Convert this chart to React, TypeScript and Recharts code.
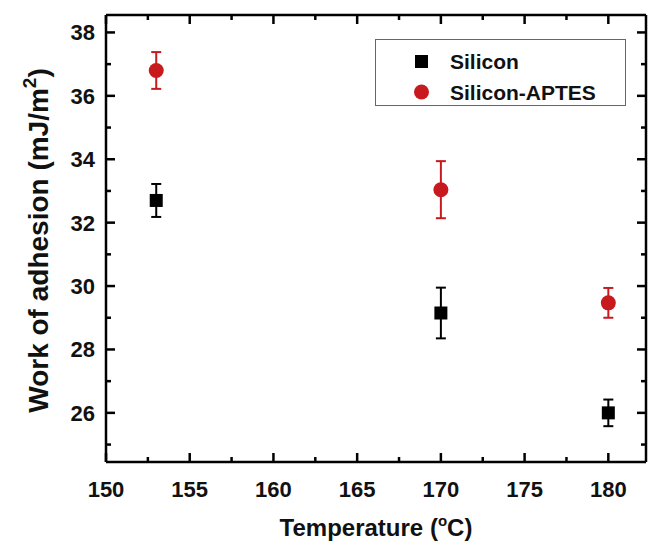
import React from "react";
import { ScatterChart, Scatter, XAxis, YAxis, ErrorBar } from "recharts";

// Temperature (°C) of each measurement
const temperatures = [153, 170, 180];

// Work of adhesion (mJ/m2) and error half-widths
const siliconValues = [32.7, 29.15, 26.0];
const siliconErrors = [0.52, 0.8, 0.42];
const aptesValues = [36.8, 33.04, 29.47];
const aptesErrors = [0.58, 0.9, 0.47];

// Axis ticks
const xMajorTicks = [150, 155, 160, 165, 170, 175, 180];
const xMinorTicks = [152.5, 157.5, 162.5, 167.5, 172.5, 177.5];
const yMajorTicks = [26, 28, 30, 32, 34, 36, 38];
const yMinorTicks = [25, 27, 29, 31, 33, 35, 37];

const xMin = 150;
const xMax = 182.25;
const yMin = 24.45;
const yMax = 38.55;

const siliconData = temperatures.map((t, i) => ({
  temp: t,
  value: siliconValues[i],
  err: siliconErrors[i],
}));
const aptesData = temperatures.map((t, i) => ({
  temp: t,
  value: aptesValues[i],
  err: aptesErrors[i],
}));

const FONT = "'Liberation Sans', Arial, Helvetica, sans-serif";
const RED = "#c8191e";

const isMajorX = (v: number) => xMajorTicks.includes(v);
const isMajorY = (v: number) => yMajorTicks.includes(v);

// inward ticks on every side, labels only on bottom and left
const BottomTick = (props: any) => {
  const { x, y, payload } = props;
  const major = isMajorX(payload.value);
  return (
    <g>
      <line x1={x} y1={y} x2={x} y2={y - (major ? 9 : 5)} stroke="#000" strokeWidth={2.5} />
      {major && (
        <text x={x} y={y + 35} textAnchor="middle" fontFamily={FONT} fontWeight="bold" fontSize={22} fill="#111">
          {payload.value}
        </text>
      )}
    </g>
  );
};

const TopTick = (props: any) => {
  const { x, y, payload } = props;
  const major = isMajorX(payload.value);
  return <line x1={x} y1={y} x2={x} y2={y + (major ? 9 : 5)} stroke="#000" strokeWidth={2.5} />;
};

const LeftTick = (props: any) => {
  const { x, y, payload } = props;
  const major = isMajorY(payload.value);
  return (
    <g>
      <line x1={x} y1={y} x2={x + (major ? 9 : 5)} y2={y} stroke="#000" strokeWidth={2.5} />
      {major && (
        <text x={x - 11} y={y} dy="0.36em" textAnchor="end" fontFamily={FONT} fontWeight="bold" fontSize={22} fill="#111">
          {payload.value}
        </text>
      )}
    </g>
  );
};

const RightTick = (props: any) => {
  const { x, y, payload } = props;
  const major = isMajorY(payload.value);
  return <line x1={x} y1={y} x2={x - (major ? 9 : 5)} y2={y} stroke="#000" strokeWidth={2.5} />;
};

const SquareShape = (props: any) => (
  <rect x={props.cx - 6.5} y={props.cy - 6.5} width={13} height={13} fill="#000" />
);
const CircleShape = (props: any) => <circle cx={props.cx} cy={props.cy} r={7.5} fill={RED} />;

const XTitle = (props: any) => {
  const vb = props.viewBox;
  return (
    <text x={vb.x + vb.width / 2} y={vb.y + 74} textAnchor="middle" fontFamily={FONT} fontWeight="bold" fontSize={24} fill="#111">
      Temperature (
      <tspan dy={-10} fontSize={15}>o</tspan>
      <tspan dy={10}>C)</tspan>
    </text>
  );
};

const YTitle = (props: any) => {
  const vb = props.viewBox;
  const cx = vb.x + 48;
  const cy = vb.y + vb.height / 2 + 2;
  return (
    <text x={cx} y={cy} transform={`rotate(-90, ${cx}, ${cy})`} textAnchor="middle" fontFamily={FONT} fontWeight="bold" fontSize={28} fill="#111">
      Work of adhesion (mJ/m
      <tspan dy={-12} fontSize={19}>2</tspan>
      <tspan dy={12}>)</tspan>
    </text>
  );
};

export default function App() {
  return (
    <div style={{ position: "relative", width: 649, height: 546 }}>
      <style>{`body{margin:0;background:#fff;}`}</style>
      <ScatterChart width={649} height={546} margin={{ top: 14, right: 2, bottom: 0, left: 0 }}>
        <XAxis
          xAxisId="b"
          type="number"
          dataKey="temp"
          domain={[xMin, xMax]}
          ticks={[...xMajorTicks, ...xMinorTicks]}
          interval={0}
          height={84}
          tickSize={0}
          tickMargin={0}
          tickLine={false}
          axisLine={{ stroke: "#000", strokeWidth: 2.5 }}
          tick={<BottomTick />}
          label={{ content: <XTitle /> }}
        />
        <XAxis
          xAxisId="t"
          orientation="top"
          type="number"
          dataKey="temp"
          domain={[xMin, xMax]}
          ticks={[...xMajorTicks, ...xMinorTicks]}
          interval={0}
          height={1}
          tickSize={0}
          tickMargin={0}
          tickLine={false}
          axisLine={{ stroke: "#000", strokeWidth: 2.5 }}
          tick={<TopTick />}
        />
        <YAxis
          yAxisId="l"
          type="number"
          dataKey="value"
          domain={[yMin, yMax]}
          ticks={[...yMajorTicks, ...yMinorTicks]}
          interval={0}
          width={106}
          tickSize={0}
          tickMargin={0}
          tickLine={false}
          axisLine={{ stroke: "#000", strokeWidth: 2.5 }}
          tick={<LeftTick />}
          label={{ content: <YTitle /> }}
        />
        <YAxis
          yAxisId="r"
          orientation="right"
          type="number"
          dataKey="value"
          domain={[yMin, yMax]}
          ticks={[...yMajorTicks, ...yMinorTicks]}
          interval={0}
          width={1}
          tickSize={0}
          tickMargin={0}
          tickLine={false}
          axisLine={{ stroke: "#000", strokeWidth: 2.5 }}
          tick={<RightTick />}
        />
        <Scatter data={siliconData} xAxisId="b" yAxisId="l" shape={<SquareShape />} isAnimationActive={false}>
          <ErrorBar dataKey="err" direction="y" width={5} stroke="#000" strokeWidth={2} />
        </Scatter>
        {/* same domains as bottom/left, so the top/right frame axes get ticks too */}
        <Scatter data={aptesData} xAxisId="t" yAxisId="r" shape={<CircleShape />} isAnimationActive={false}>
          <ErrorBar dataKey="err" direction="y" width={5} stroke={RED} strokeWidth={2} />
        </Scatter>
      </ScatterChart>

      {/* legend box */}
      <div
        style={{
          position: "absolute",
          left: 375,
          top: 39,
          width: 251,
          height: 67,
          border: "1.5px solid #666",
          boxSizing: "border-box",
          background: "#fff",
        }}
      >
        <svg width={248} height={64} style={{ display: "block" }}>
          <rect x={39} y={15} width={13} height={13} fill="#000" />
          <text x={74} y={29} fontFamily={FONT} fontWeight="bold" fontSize={21} fill="#111">
            Silicon
          </text>
          <circle cx={45.5} cy={52} r={7.5} fill={RED} />
          <text x={74} y={60} fontFamily={FONT} fontWeight="bold" fontSize={21} fill="#111">
            Silicon-APTES
          </text>
        </svg>
      </div>
    </div>
  );
}
